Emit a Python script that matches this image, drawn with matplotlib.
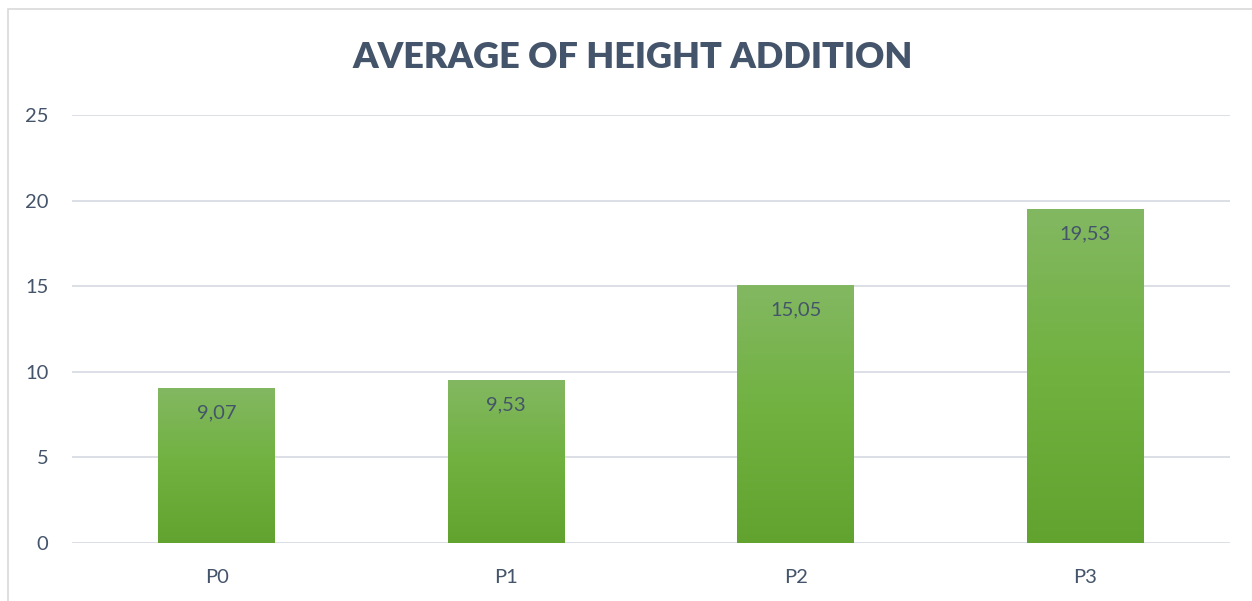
import numpy as np
import matplotlib.pyplot as plt
from matplotlib.patches import Rectangle
from matplotlib.colors import LinearSegmentedColormap

categories = ['P0', 'P1', 'P2', 'P3']
values = [9.07, 9.53, 15.05, 19.53]
labels = ['9,07', '9,53', '15,05', '19,53']
yticks = [0, 5, 10, 15, 20, 25]

text_col = '#44546a'
grid_col = '#d9dde4'
plt.rcParams['font.family'] = ['Lato', 'DejaVu Sans']

fig = plt.figure(figsize=(12.52, 6.01), dpi=100)
# chart area frame (top and left visible)
fig.patches.append(Rectangle((8 / 1252, -0.1), 1.2, 1 - 9 / 601 + 0.1,
                             transform=fig.transFigure, fill=False,
                             edgecolor='#d9d9d9', lw=1.2))

ax = fig.add_axes([72 / 1252, 58 / 601, (1230 - 72) / 1252, (543 - 115) / 601])
x = np.arange(len(categories))

ax.set_yticks(yticks)
ax.yaxis.grid(True, color=grid_col, lw=1.3)
ax.set_axisbelow(True)
for s in ax.spines.values():
    s.set_visible(False)
ax.tick_params(length=0, labelsize=14.5, labelcolor=text_col)
ax.tick_params(axis='x', pad=19)
ax.tick_params(axis='y', pad=17)
ax.set_xticks(x)
ax.set_xticklabels(categories)

# gradient bars
cmap = LinearSegmentedColormap.from_list('g', ['#62a330', '#70b13f', '#83b862'])
grad = np.linspace(0, 1, 256).reshape(-1, 1)
bars = ax.bar(x, values, width=0.404, color='none')
for b in bars:
    x0, w, h = b.get_x(), b.get_width(), b.get_height()
    im = ax.imshow(grad, cmap=cmap, origin='lower', aspect='auto',
                   extent=[x0, x0 + w, 0, h], zorder=2)
    im.set_clip_path(b)

for xi, v, lab in zip(x, values, labels):
    ax.annotate(lab, (xi, v), xytext=(0, -25), textcoords='offset pixels',
                ha='center', va='center', fontsize=14.5, color=text_col, zorder=3)

ax.set_xlim(-0.5, len(categories) - 0.5)
ax.set_ylim(0, 25)

fig.text(633 / 1252, 1 - 58 / 601, 'AVERAGE OF HEIGHT ADDITION', ha='center',
         va='center', fontsize=26, fontweight='heavy', color=text_col)

plt.savefig('out.png', dpi=100)
